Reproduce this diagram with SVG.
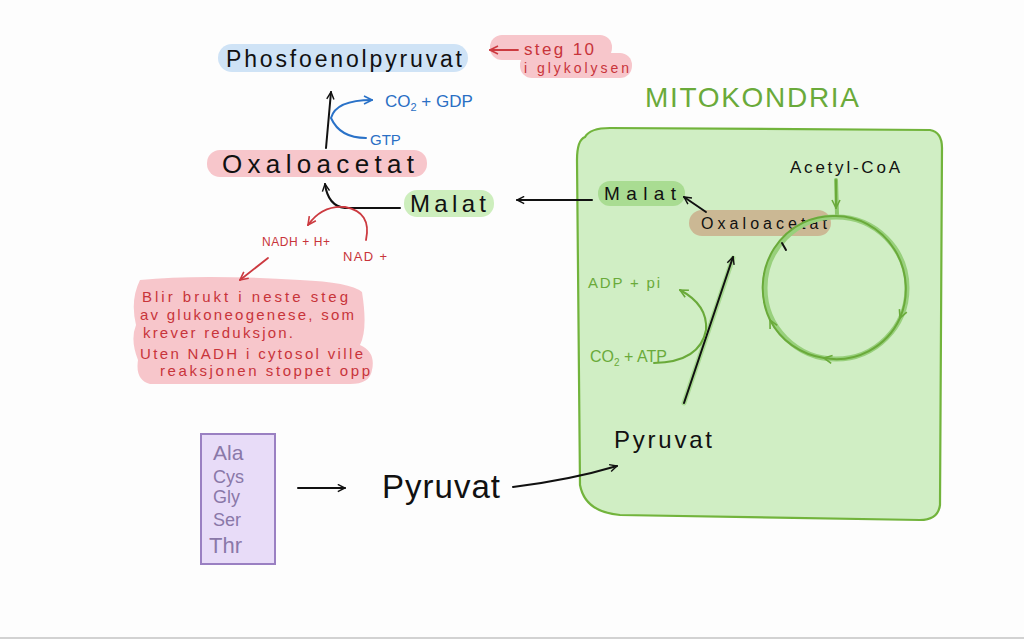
<svg xmlns="http://www.w3.org/2000/svg" width="1024" height="639" viewBox="0 0 1024 639">
<defs>
<style>
text{font-family:"Liberation Sans","DejaVu Sans",sans-serif}
.blk{fill:#111}
.red{fill:#c8343a}
.blu{fill:#2a6fc4}
.grn{fill:#6aaa3a}
.pur{fill:#8a78a8}
.cb{fill:none;stroke:#111;stroke-width:2;stroke-linecap:round}
.cr{fill:none;stroke:#cc3a40;stroke-width:1.8;stroke-linecap:round}
.cbl{fill:none;stroke:#2a72c8;stroke-width:2;stroke-linecap:round}
.cg{fill:none;stroke:#6aaa3a;stroke-width:2;stroke-linecap:round}
</style>
<marker id="ab" viewBox="0 0 10 10" refX="9" refY="5" markerWidth="9" markerHeight="9" markerUnits="userSpaceOnUse" orient="auto"><path d="M1,1 L9,5 L1,9" fill="none" stroke="#111" stroke-width="1.6"/></marker>
<marker id="ar" viewBox="0 0 10 10" refX="9" refY="5" markerWidth="10" markerHeight="10" markerUnits="userSpaceOnUse" orient="auto"><path d="M1,1 L9,5 L1,9" fill="none" stroke="#cc3a40" stroke-width="1.6"/></marker>
<marker id="abl" viewBox="0 0 10 10" refX="9" refY="5" markerWidth="10" markerHeight="10" markerUnits="userSpaceOnUse" orient="auto"><path d="M1,1 L9,5 L1,9" fill="none" stroke="#2a72c8" stroke-width="1.6"/></marker>
<marker id="ag" viewBox="0 0 10 10" refX="9" refY="5" markerWidth="10" markerHeight="10" markerUnits="userSpaceOnUse" orient="auto"><path d="M1,1 L9,5 L1,9" fill="none" stroke="#6aaa3a" stroke-width="1.6"/></marker>
</defs>
<rect x="0" y="0" width="1024" height="639" fill="#fdfdfd"/>
<rect x="0" y="637" width="1024" height="2" fill="#d2d2d2"/>

<g id="mitokondria">
<text x="645" y="107" font-size="28" class="grn" textLength="214" lengthAdjust="spacing">MITOKONDRIA</text>
<path d="M585,137 Q590,128 610,128 L930,130 Q942,132 942,148 L940,505 Q938,520 920,520 L620,515 Q585,512 580,485 L577,160 Q577,140 585,137 Z" fill="#d0eec4" stroke="#72b43c" stroke-width="2.2"/>
</g>

<g id="phosfoenolpyruvat">
<rect x="218" y="44" width="250" height="28" rx="14" fill="#cfe3f6"/>
<text x="226" y="67" font-size="23" class="blk" textLength="236" lengthAdjust="spacing">Phosfoenolpyruvat</text>
</g>

<g id="steg10">
<rect x="490" y="35" width="122" height="25" rx="12" fill="#f7c6cb"/>
<rect x="520" y="53" width="112" height="25" rx="12" fill="#f7c6cb"/>
<text x="524" y="55" font-size="17" class="red" textLength="70" lengthAdjust="spacing">steg 10</text>
<text x="524" y="73" font-size="14" class="red" textLength="105" lengthAdjust="spacing">i glykolysen</text>
</g>

<g id="gtp-labels">
<text x="385" y="107" font-size="17" class="blu">CO<tspan font-size="11" dy="4">2</tspan><tspan dy="-4"> + GDP</tspan></text>
<text x="370" y="145" font-size="15" class="blu">GTP</text>
</g>

<g id="oxaloacetat">
<rect x="207" y="150" width="220" height="27" rx="13" fill="#f7c6cb"/>
<text x="222" y="173" font-size="26" class="blk" textLength="192" lengthAdjust="spacing">Oxaloacetat</text>
</g>

<g id="malat">
<rect x="404" y="190" width="90" height="27" rx="13" fill="#cdeebd"/>
<text x="410" y="212" font-size="24" class="blk" textLength="76" lengthAdjust="spacing">Malat</text>
</g>

<g id="nad-labels">
<text x="262" y="246" font-size="12" class="red" textLength="68" lengthAdjust="spacing">NADH + H+</text>
<text x="343" y="261" font-size="13" class="red" textLength="44" lengthAdjust="spacing">NAD +</text>
</g>

<g id="note">
<path d="M140,280 Q200,274 300,280 Q350,282 362,292 Q368,330 360,345 Q376,352 372,370 Q370,384 350,384 L150,384 Q135,380 138,360 Q130,340 136,325 Q130,300 140,280 Z" fill="#f7c6cb"/>
<text x="142" y="302" font-size="15" class="red" textLength="206" lengthAdjust="spacing">Blir brukt i neste steg</text>
<text x="140" y="320" font-size="15" class="red" textLength="214" lengthAdjust="spacing">av glukoneogenese, som</text>
<text x="143" y="338" font-size="15" class="red" textLength="150" lengthAdjust="spacing">krever reduksjon.</text>
<text x="140" y="359" font-size="15" class="red" textLength="223" lengthAdjust="spacing">Uten NADH i cytosol ville</text>
<text x="160" y="376" font-size="15" class="red" textLength="210" lengthAdjust="spacing">reaksjonen stoppet opp</text>
</g>

<g id="malat-mito">
<rect x="598" y="181" width="87" height="25" rx="12" fill="#a9dc92"/>
<text x="604" y="200" font-size="19" class="blk" textLength="72" lengthAdjust="spacing">Malat</text>
</g>

<g id="oxaloacetat-mito">
<rect x="689" y="210" width="142" height="26" rx="13" fill="#cbb894"/>
<text x="701" y="229" font-size="16" class="blk" textLength="126" lengthAdjust="spacing">Oxaloacetat</text>
</g>

<g id="acetylcoa">
<text x="790" y="173" font-size="17" class="blk" textLength="110" lengthAdjust="spacing">Acetyl-CoA</text>
</g>

<g id="atp-labels">
<text x="588" y="288" font-size="15" class="grn" textLength="72" lengthAdjust="spacing">ADP + pi</text>
<text x="590" y="362" font-size="16" class="grn">CO<tspan font-size="10" dy="4">2</tspan><tspan dy="-4"> + ATP</tspan></text>
</g>

<g id="pyruvat-mito">
<text x="614" y="448" font-size="24" class="blk" textLength="98" lengthAdjust="spacing">Pyruvat</text>
</g>

<g id="aminosyrer">
<rect x="201" y="434" width="74" height="130" fill="#e8dcf8" stroke="#9a80c2" stroke-width="2"/>
<text x="213" y="460" font-size="21" class="pur">Ala</text>
<text x="213" y="483" font-size="18" class="pur">Cys</text>
<text x="213" y="503" font-size="18" class="pur">Gly</text>
<text x="213" y="526" font-size="18" class="pur">Ser</text>
<text x="209" y="553" font-size="22" class="pur">Thr</text>
</g>

<g id="pyruvat">
<text x="382" y="498" font-size="33" class="blk" textLength="118" lengthAdjust="spacing">Pyruvat</text>
</g>

<g id="connectors">
<path class="cr" d="M518,50 L490,50" marker-end="url(#ar)"/>
<path class="cb" d="M326,148 L331,92" marker-end="url(#ab)"/>
<path class="cbl" d="M366,138 Q340,138 331,118 Q336,100 372,100" marker-end="url(#abl)"/>
<path class="cb" d="M400,208 L345,208 Q328,206 325,184" marker-end="url(#ab)"/>
<path class="cr" d="M366,240 Q372,212 345,207 Q322,205 308,225" marker-end="url(#ar)"/>
<path class="cr" d="M268,258 L240,280" marker-end="url(#ar)"/>
<path class="cb" d="M592,200 L517,200" marker-end="url(#ab)"/>
<path class="cb" d="M706,212 L684,197" marker-end="url(#ab)"/>
<path d="M836,180 L837,215" fill="none" stroke="#8cc76a" stroke-width="4" stroke-linecap="round"/>
<path class="cg" d="M836,180 L836,208" marker-end="url(#ag)"/>
<circle cx="836" cy="288" r="71" fill="none" stroke="#98d07c" stroke-width="5"/>
<path class="cg" d="M836,216 A71,73 0 0 1 900,318" marker-end="url(#ag)"/>
<path class="cg" d="M900,318 A70,70 0 0 1 824,358" marker-end="url(#ag)"/>
<path class="cg" d="M824,358 A72,70 0 0 1 770,320" marker-end="url(#ag)"/>
<path class="cg" d="M770,320 A70,72 0 0 1 836,216"/>
<path class="cb" d="M782,243 L786,250"/>
<path d="M684,403 L733,258" fill="none" stroke="#9ed484" stroke-width="5" stroke-linecap="round" opacity="0.8"/>
<path class="cb" d="M684,403 L733,257" marker-end="url(#ab)"/>
<path class="cg" d="M654,363 Q700,362 706,330 Q708,305 680,290" marker-end="url(#ag)"/>
<path class="cb" d="M298,488 L345,488" marker-end="url(#ab)"/>
<path class="cb" d="M513,487 Q570,480 617,466" marker-end="url(#ab)"/>
</g>
</svg>
